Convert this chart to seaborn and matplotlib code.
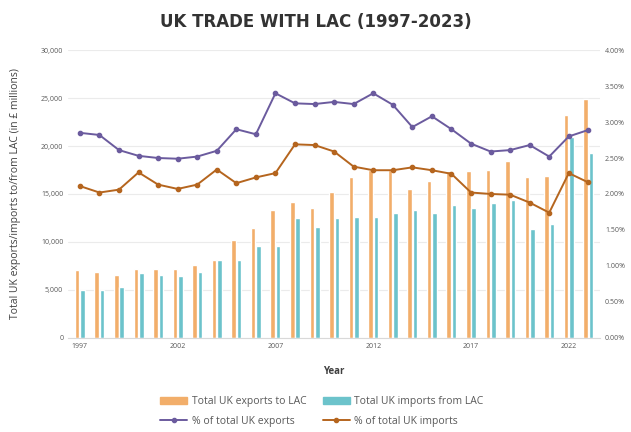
import numpy as np
import pandas as pd
import seaborn as sns
import matplotlib.pyplot as plt
from matplotlib.ticker import FuncFormatter
from matplotlib.lines import Line2D
from matplotlib.patches import Patch

# data
years = list(range(1997, 2024))
exports = [7100, 6900, 6600, 7150, 7150, 7150, 7600, 8100, 10200, 11400, 13300, 14200,
           13500, 15250, 16800, 17500, 17500, 15500, 16350, 17350, 17350, 17550, 18450,
           16800, 16850, 23250, 24950]
imports = [5000, 5000, 5350, 6750, 6550, 6400, 6900, 8100, 8100, 9600, 9600, 12450,
           11600, 12450, 12650, 12650, 13050, 13350, 13000, 13900, 13500, 14050, 14350,
           11300, 11850, 20950, 19300]
pct_exports = [2.85, 2.82, 2.61, 2.53, 2.50, 2.49, 2.52, 2.60, 2.90, 2.83, 3.40, 3.26,
               3.25, 3.28, 3.25, 3.40, 3.24, 2.93, 3.08, 2.90, 2.70, 2.59, 2.61, 2.68,
               2.52, 2.80, 2.89]
pct_imports = [2.11, 2.02, 2.06, 2.30, 2.13, 2.07, 2.13, 2.34, 2.15, 2.23, 2.29, 2.69,
               2.68, 2.59, 2.38, 2.33, 2.33, 2.37, 2.33, 2.28, 2.02, 2.00, 1.99, 1.88,
               1.74, 2.29, 2.16]

lab_exp = "Total UK exports to LAC"
lab_imp = "Total UK imports from LAC"
lab_pexp = "% of total UK exports"
lab_pimp = "% of total UK imports"

c_exp = "#F2AE6A"
c_imp = "#6CC3CB"
c_pexp = "#6B5B9E"
c_pimp = "#B5651E"

sns.set_style("white")
plt.rcParams['font.family'] = ['Open Sans', 'DejaVu Sans']

bars = pd.DataFrame({
    "Year": years * 2,
    "Value": exports + imports,
    "Series": [lab_exp] * len(years) + [lab_imp] * len(years),
})

fig = plt.figure(figsize=(6.31, 4.32), dpi=100)
ax = fig.add_axes([0.108, 0.218, 0.843, 0.666])

sns.barplot(data=bars, x="Year", y="Value", hue="Series", palette=[c_exp, c_imp],
            width=0.55, gap=0.15, ax=ax, legend=False, saturation=1)

ax.set_ylim(0, 30000)
ax.set_yticks(np.arange(0, 30001, 5000))
ax.yaxis.set_major_formatter(FuncFormatter(lambda v, p: f"{int(v):,}"))
ax.grid(axis="y", color="#EBEBEB", linewidth=0.8)
ax.set_axisbelow(True)
ax.set_xlim(-0.6, len(years) - 0.4)

tick_pos = list(range(0, len(years), 5))
ax.set_xticks(tick_pos)
ax.set_xticklabels([str(years[i]) for i in tick_pos])
ax.tick_params(axis="both", labelsize=5, colors="#595959", length=0)
ax.set_xlabel("Year", fontsize=7, fontweight="bold", color="#404040", labelpad=12)
ax.set_ylabel("Total UK exports/imports to/from LAC (in £ millions)", fontsize=7.5,
              color="#404040", labelpad=14)
for s in ax.spines.values():
    s.set_visible(False)
ax.spines["bottom"].set_visible(True)
ax.spines["bottom"].set_color("#D9D9D9")

ax2 = ax.twinx()
sns.pointplot(x=years, y=pct_exports, ax=ax2, color=c_pexp, markers="o",
              markersize=3, linewidth=1.4)
sns.pointplot(x=years, y=pct_imports, ax=ax2, color=c_pimp, markers="o",
              markersize=3, linewidth=1.4)
ax2.set_ylim(0, 4)
ax2.set_yticks(np.arange(0, 4.01, 0.5))
ax2.yaxis.set_major_formatter(FuncFormatter(lambda v, p: f"{v:.2f}%"))
ax2.tick_params(axis="y", labelsize=5, colors="#595959", length=0)
ax2.set_xlim(-0.6, len(years) - 0.4)
ax2.set_xticks(tick_pos)
for s in ax2.spines.values():
    s.set_visible(False)

fig.text(0.5, 0.948, "UK TRADE WITH LAC (1997-2023)", ha="center", va="center",
         fontsize=12, fontweight="bold", color="#333333", family="DejaVu Sans")

# matplotlib fills legend columns first, so order handles to get row-wise layout
handles = [
    Patch(color=c_exp, label=lab_exp),
    Line2D([], [], color=c_pexp, marker="o", markersize=3, lw=1.4, label=lab_pexp),
    Patch(color=c_imp, label=lab_imp),
    Line2D([], [], color=c_pimp, marker="o", markersize=3, lw=1.4, label=lab_pimp),
]
fig.legend(handles=handles, loc="center", bbox_to_anchor=(0.51, 0.048), ncol=2,
           frameon=False, fontsize=7.5, labelcolor="#595959", handlelength=2.6,
           columnspacing=1.6, handletextpad=0.4, labelspacing=0.85)

fig.savefig("out.png", dpi=100)
